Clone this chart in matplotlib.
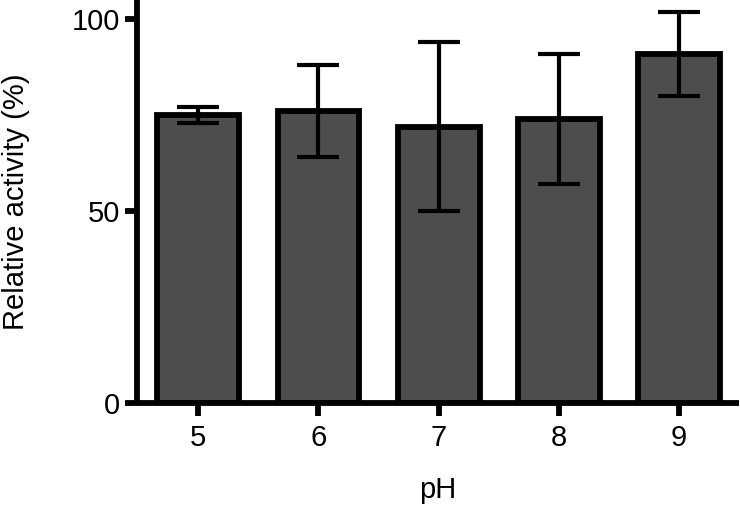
import matplotlib.pyplot as plt

ph = [5, 6, 7, 8, 9]
activity = [75, 76, 72, 74, 91]
sd = [2, 12, 22, 17, 11]

plt.rcParams['font.family'] = ['Liberation Sans', 'DejaVu Sans']

fig = plt.figure(figsize=(7.4, 5.07), dpi=100)
ax = fig.add_axes([0.185, 0.205, 0.814, 0.795])

ax.bar(ph, activity, width=0.68, color='#4d4d4d', edgecolor='black', linewidth=4.2, zorder=2)
ax.errorbar(ph, activity, yerr=sd, fmt='none', ecolor='black', elinewidth=3,
            capsize=15, capthick=3, zorder=3)

ax.set_xlim(4.49, 9.5)
ax.set_ylim(0, 105)
ax.set_xticks(ph)
ax.set_yticks([0, 50, 100])

for s in ['top', 'right']:
    ax.spines[s].set_visible(False)
for s in ['left', 'bottom']:
    ax.spines[s].set_linewidth(4.2)
    ax.spines[s].set_capstyle('butt')

ax.tick_params(axis='both', width=4.2, length=9, labelsize=21)
ax.tick_params(axis='x', pad=6)
ax.tick_params(axis='y', pad=3)
ax.set_xlabel('pH', fontsize=21, labelpad=17)
ax.set_ylabel('Relative activity (%)', fontsize=21, labelpad=30)

fig.savefig('out.png', dpi=100)
